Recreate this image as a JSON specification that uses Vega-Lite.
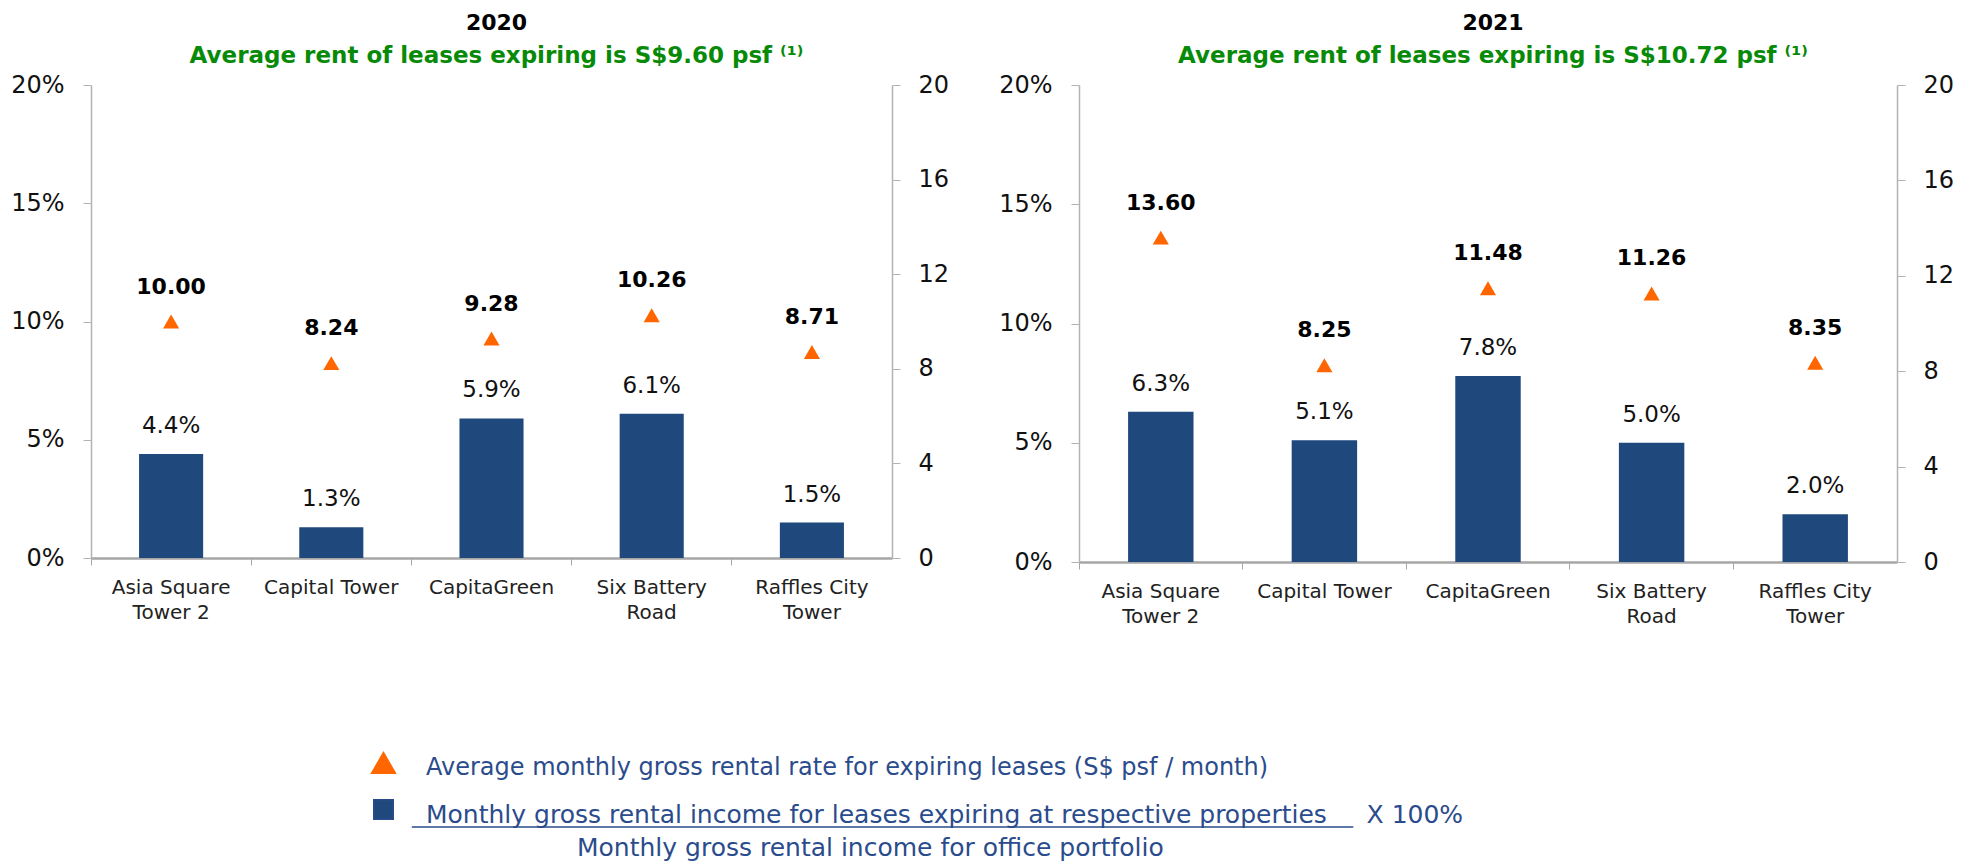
{
  "$schema": "https://vega.github.io/schema/vega-lite/v6.json",
  "padding": {"left": 10, "top": 12, "right": 5, "bottom": 5},
  "spacing": 49,
  "config": {
    "font": "DejaVu Sans",
    "view": {"stroke": null},
    "axis": {"grid": false, "title": null, "labelColor": "#111111", "domainColor": "#b3b3b3", "tickColor": "#b3b3b3"}
  },
  "datasets": {
    "rows": [
      {"year": "2020", "property": "Asia Square Tower 2", "pct": 0.044, "rent": 10.00},
      {"year": "2020", "property": "Capital Tower", "pct": 0.013, "rent": 8.24},
      {"year": "2020", "property": "CapitaGreen", "pct": 0.059, "rent": 9.28},
      {"year": "2020", "property": "Six Battery Road", "pct": 0.061, "rent": 10.26},
      {"year": "2020", "property": "Raffles City Tower", "pct": 0.015, "rent": 8.71},
      {"year": "2021", "property": "Asia Square Tower 2", "pct": 0.063, "rent": 13.60},
      {"year": "2021", "property": "Capital Tower", "pct": 0.051, "rent": 8.25},
      {"year": "2021", "property": "CapitaGreen", "pct": 0.078, "rent": 11.48},
      {"year": "2021", "property": "Six Battery Road", "pct": 0.050, "rent": 11.26},
      {"year": "2021", "property": "Raffles City Tower", "pct": 0.020, "rent": 8.35}
    ]
  },
  "hconcat": [
    {
      "width": 801,
      "height": 473,
      "title": {"text": "2020", "subtitle": "Average rent of leases expiring is S$9.60 psf ⁽¹⁾", "fontSize": 22, "fontWeight": "bold", "color": "#000000", "subtitleFontSize": 23, "subtitleFontWeight": "bold", "subtitleColor": "#078A07", "subtitlePadding": 10, "offset": 4, "anchor": "middle", "dx": 5},
      "data": {"name": "rows"},
      "transform": [{"filter": "datum.year == '2020'"}],
      "encoding": {
        "x": {"field": "property", "type": "nominal", "sort": null,
          "scale": {"paddingInner": 0, "paddingOuter": 0},
          "axis": {"orient": "bottom", "labelAngle": 0, "labelFontSize": 20, "labelColor": "#222222", "tickSize": 7, "labelPadding": 12, "bandPosition": 0, "domainColor": "#a6a6a6", "domainWidth": 2.5, "tickColor": "#a6a6a6", "labelOverlap": false, "labelBound": false, "labelLineHeight": 25, "labelBaseline": "top", "labelLimit": 400,
            "labelExpr": "datum.label == 'Asia Square Tower 2' ? ['Asia Square', 'Tower 2'] : datum.label == 'Six Battery Road' ? ['Six Battery', 'Road'] : datum.label == 'Raffles City Tower' ? ['Raffles City', 'Tower'] : datum.label"}
        }
      },
      "layer": [
        {
          "encoding": {
            "y": {"field": "pct", "type": "quantitative", "scale": {"domain": [0, 0.2], "nice": false},
              "axis": {"orient": "left", "values": [0, 0.05, 0.1, 0.15, 0.2], "format": ".0%", "tickSize": 8, "labelPadding": 19, "labelFontSize": 24, "domainWidth": 1.5}}
          },
          "layer": [
            {"mark": {"type": "bar", "width": {"band": 0.4}},
              "encoding": {"color": {"datum": "income", "type": "nominal",
                "scale": {"domain": ["rate", "income"], "range": ["#FF6600", "#1F497D"]},
                "legend": {"orient": "none", "legendX": 280, "legendY": 665, "title": null, "direction": "vertical",
                  "labelFontSize": 24, "labelColor": "#2B4C8C", "labelOffset": 30, "rowPadding": 16, "labelLimit": 3000,
                  "labelExpr": "datum.value == 'rate' ? 'Average monthly gross rental rate for expiring leases (S$ psf / month)' : ['Monthly gross rental income for leases expiring at respective properties\u00a0\u00a0\u00a0\u00a0\u00a0X 100%', '\u2060\u00a0\u00a0\u00a0\u00a0\u00a0\u00a0\u00a0\u00a0\u00a0\u00a0\u00a0\u00a0\u00a0\u00a0\u00a0\u00a0\u00a0\u00a0\u00a0Monthly gross rental income for office portfolio']",
                  "encode": {
                    "symbols": {"update": {
                      "shape": {"signal": "datum.value == 'rate' ? 'triangle-up' : 'M -1 -1 L 1 -1 L 1 1 L -1 1 Z M 2.9 1.8 L 99.5 1.8'"},
                      "size": {"signal": "datum.value == 'rate' ? 700 : 380"},
                      "fill": {"signal": "datum.value == 'rate' ? '#FF6600' : '#1F497D'"},
                      "stroke": {"signal": "datum.value == 'income' ? '#2B4C8C' : 'transparent'"},
                      "strokeWidth": {"value": 1.5},
                      "opacity": {"value": 1},
                      "fillOpacity": {"value": 1},
                      "strokeOpacity": {"value": 1}
                    }},
                    "labels": {"update": {
                      "fontSize": {"signal": "datum.value == 'rate' ? 24 : 25"},
                      "lineHeight": {"value": 33},
                      "dy": {"value": 5}
                    }}
                  }
                }}}},
            {"mark": {"type": "text", "dy": -28, "fontSize": 23, "color": "#111111", "baseline": "middle"},
              "encoding": {"text": {"field": "pct", "type": "quantitative", "format": ".1%"}}}
          ]
        },
        {
          "encoding": {
            "y": {"field": "rent", "type": "quantitative", "scale": {"domain": [0, 20], "nice": false},
              "axis": {"orient": "right", "values": [0, 4, 8, 12, 16, 20], "tickSize": 8, "labelPadding": 18, "labelFontSize": 24, "domainWidth": 1.5}}
          },
          "layer": [
            {"mark": {"type": "point", "shape": "triangle-up", "filled": true, "size": 260, "opacity": 1},
              "encoding": {"color": {"datum": "rate", "type": "nominal"}}},
            {"mark": {"type": "text", "dy": -35, "fontSize": 22, "fontWeight": "bold", "color": "#000000", "baseline": "middle"},
              "encoding": {"text": {"field": "rent", "type": "quantitative", "format": ".2f"}}}
          ]
        }
      ],
      "resolve": {"scale": {"y": "independent"}}
    },
    {
      "width": 818,
      "height": 477,
      "title": {"text": "2021", "subtitle": "Average rent of leases expiring is S$10.72 psf ⁽¹⁾", "fontSize": 22, "fontWeight": "bold", "color": "#000000", "subtitleFontSize": 23, "subtitleFontWeight": "bold", "subtitleColor": "#078A07", "subtitlePadding": 10, "offset": 4, "anchor": "middle", "dx": 5},
      "data": {"name": "rows"},
      "transform": [{"filter": "datum.year == '2021'"}],
      "encoding": {
        "x": {"field": "property", "type": "nominal", "sort": null,
          "scale": {"paddingInner": 0, "paddingOuter": 0},
          "axis": {"orient": "bottom", "labelAngle": 0, "labelFontSize": 20, "labelColor": "#222222", "tickSize": 7, "labelPadding": 12, "bandPosition": 0, "domainColor": "#a6a6a6", "domainWidth": 2.5, "tickColor": "#a6a6a6", "labelOverlap": false, "labelBound": false, "labelLineHeight": 25, "labelBaseline": "top", "labelLimit": 400,
            "labelExpr": "datum.label == 'Asia Square Tower 2' ? ['Asia Square', 'Tower 2'] : datum.label == 'Six Battery Road' ? ['Six Battery', 'Road'] : datum.label == 'Raffles City Tower' ? ['Raffles City', 'Tower'] : datum.label"}
        }
      },
      "layer": [
        {
          "encoding": {
            "y": {"field": "pct", "type": "quantitative", "scale": {"domain": [0, 0.2], "nice": false},
              "axis": {"orient": "left", "values": [0, 0.05, 0.1, 0.15, 0.2], "format": ".0%", "tickSize": 8, "labelPadding": 19, "labelFontSize": 24, "domainWidth": 1.5}}
          },
          "layer": [
            {"mark": {"type": "bar", "width": {"band": 0.4}},
              "encoding": {"color": {"datum": "income", "type": "nominal"}}},
            {"mark": {"type": "text", "dy": -28, "fontSize": 23, "color": "#111111", "baseline": "middle"},
              "encoding": {"text": {"field": "pct", "type": "quantitative", "format": ".1%"}}}
          ]
        },
        {
          "encoding": {
            "y": {"field": "rent", "type": "quantitative", "scale": {"domain": [0, 20], "nice": false},
              "axis": {"orient": "right", "values": [0, 4, 8, 12, 16, 20], "tickSize": 8, "labelPadding": 18, "labelFontSize": 24, "domainWidth": 1.5}}
          },
          "layer": [
            {"mark": {"type": "point", "shape": "triangle-up", "filled": true, "size": 260, "opacity": 1},
              "encoding": {"color": {"datum": "rate", "type": "nominal"}}},
            {"mark": {"type": "text", "dy": -35, "fontSize": 22, "fontWeight": "bold", "color": "#000000", "baseline": "middle"},
              "encoding": {"text": {"field": "rent", "type": "quantitative", "format": ".2f"}}}
          ]
        }
      ],
      "resolve": {"scale": {"y": "independent"}}
    }
  ]
}
